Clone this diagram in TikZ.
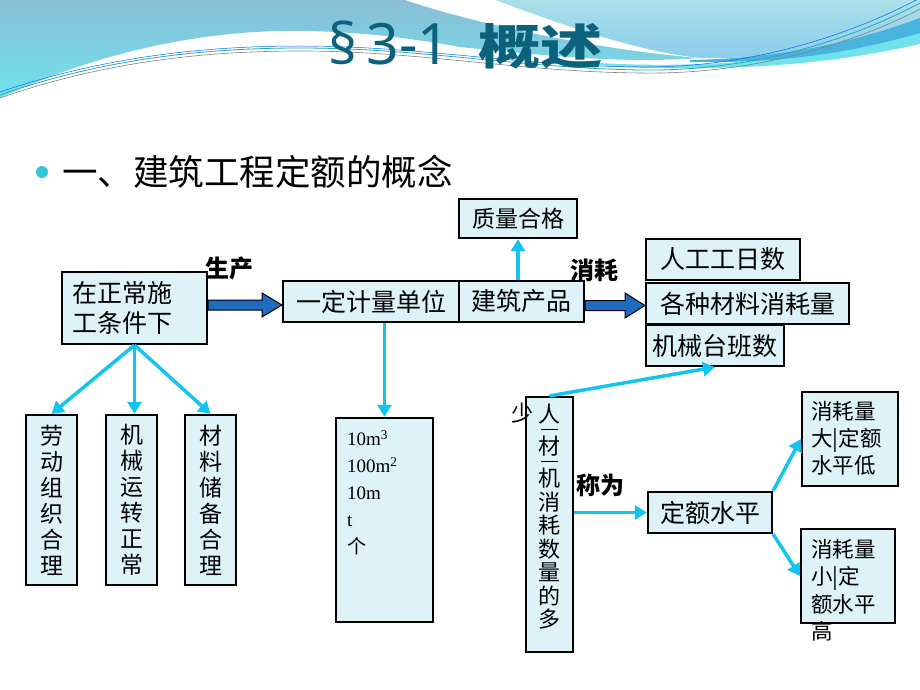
\documentclass[tikz,border=0pt]{standalone}
\usepackage{fontspec}
\usepackage{graphicx}
\newfontfamily\cjk{Noto Sans CJK SC}
\newfontfamily\lat{Noto Sans}
\newfontfamily\numfont{Liberation Serif}
\usetikzlibrary{arrows.meta,calc}
\definecolor{cy}{RGB}{20,196,240}
\definecolor{boxfill}{RGB}{221,243,248}
\definecolor{fatc}{RGB}{30,108,192}
\definecolor{titlec}{RGB}{12,98,124}
\definecolor{hbA}{RGB}{137,190,214}
\definecolor{hbB}{RGB}{112,226,236}
\definecolor{hrA}{RGB}{170,224,232}
\definecolor{hrB}{RGB}{138,204,236}
\definecolor{deepb}{RGB}{72,180,222}
\definecolor{lcy}{RGB}{112,226,236}
\definecolor{teal}{RGB}{40,170,175}
\definecolor{bulc}{RGB}{50,200,215}
\tikzset{
  box/.style={draw=black, line width=2.2pt, fill=boxfill, inner sep=0pt,
    font=\cjk\fontsize{25}{30}\selectfont, text=black},
  vbox/.style={box, minimum width=51pt, minimum height=170pt, align=center,
    font=\cjk\fontsize{23}{26}\selectfont},
  cyarrow/.style={draw=cy, line width=3.5pt, -{Triangle[length=12pt,width=14pt]}},
  fatarrow/.style={fill=fatc, draw=black, line width=1pt, line join=miter},
  lbl/.style={inner sep=0pt, font=\cjk\bfseries\fontsize{24}{24}\selectfont},
  txt/.style={inner sep=0pt, align=left}
}
\begin{document}
\begin{tikzpicture}[x=1pt,y=-1pt]
\useasboundingbox (0,0) rectangle (920,690);
\fill[white] (0,0) rectangle (920,690);
% header swooshes
\shade[top color=hbA, bottom color=hbB] (0,0) -- (495,0)
  .. controls (570,28) and (640,52) .. (700,58)
  .. controls (620,64) and (540,55) .. (460,47)
  .. controls (400,36) and (340,30) .. (280,31)
  .. controls (180,33) and (80,60) .. (0,98) -- cycle;
\shade[top color=hrA, bottom color=hrB] (495,0)
  .. controls (570,28) and (640,52) .. (700,58)
  .. controls (790,60) and (860,40) .. (920,22) -- (920,0) -- cycle;
\fill[white] (405,0) -- (495,0)
  .. controls (570,28) and (640,52) .. (700,58)
  .. controls (600,50) and (480,25) .. (405,0) -- cycle;
\fill[lcy] (560,60) .. controls (660,70) and (800,66) .. (920,32)
  -- (920,44) .. controls (840,62) and (760,70) .. (650,68)
  .. controls (610,67) and (580,64) .. (560,60) -- cycle;
\fill[deepb] (690,60) .. controls (790,58) and (860,40) .. (920,18)
  -- (920,33) .. controls (860,50) and (790,64) .. (690,62) -- cycle;
\draw[teal, line width=0.8pt] (0,95) .. controls (100,60) and (200,48) .. (300,48)
  .. controls (420,48) and (520,68) .. (640,70) .. controls (760,72) and (860,35) .. (920,3);
\draw[gray, line width=0.6pt] (0,98) .. controls (100,63) and (200,51) .. (300,51)
  .. controls (420,51) and (520,72) .. (640,73) .. controls (760,75) and (860,40) .. (920,9);
\draw[blue!60!cyan, line width=0.5pt] (0,92) .. controls (100,58) and (200,46) .. (300,46)
  .. controls (420,46) and (520,66) .. (640,67) .. controls (760,68) and (860,30) .. (920,-2);
% title
\node[anchor=base west, inner sep=0pt, text=titlec] (title) at (328,65)
  {\lat\fontsize{57}{57}\selectfont §\,3-1\hspace{28pt}\scalebox{1.3}[1]{\cjk\bfseries\fontsize{48}{48}\selectfont 概述}};
% bullet heading
\fill[bulc] (42,172) circle (6);
\node[anchor=west, inner sep=0pt, font=\cjk\fontsize{35.5}{36}\selectfont] (hd) at (62,172) {一、建筑工程定额的概念};
% main boxes
\node[box, minimum width=145pt, minimum height=72pt, text width=125pt, align=left] (n1) at (134.5,308) {在正常施\\工条件下};
\node[box, minimum width=176pt, minimum height=41pt] (unit) at (371,301.5) {一定计量单位};
\node[box, minimum width=125pt, minimum height=41pt] (prod) at (521.5,301.5) {建筑产品};
\node[box, minimum width=118pt, minimum height=39pt, font=\cjk\fontsize{23}{26}\selectfont] (zl) at (518,218.5) {质量合格};
\node[box, minimum width=154pt, minimum height=41pt] (rg) at (723,259.5) {人工工日数};
\node[box, minimum width=203pt, minimum height=41pt] (cl) at (747.5,303.5) {各种材料消耗量};
\node[box, minimum width=138pt, minimum height=41pt] (jx) at (715,345.5) {机械台班数};
% vertical boxes
\node[vbox] (v1) at (51.5,500) {劳\\动\\组\\织\\合\\理};
\node[vbox] (v2) at (131.5,500) {机\\械\\运\\转\\正\\常};
\node[vbox] (v3) at (210.5,500) {材\\料\\储\\备\\合\\理};
% units box
\node[box, minimum width=97pt, minimum height=204pt] (units) at (384.5,520) {};
\node[txt, anchor=north west, font=\numfont\fontsize{19}{27}\selectfont] (unitst) at (347,430)
  {10m\textsuperscript{3}\\100m\textsuperscript{2}\\10m\\t\\{\cjk 个}};
% r-c-j box
\node[box, minimum width=47pt, minimum height=255pt] (rcj) at (549.5,524.5) {};
\node[inner sep=0pt, anchor=north, align=center, font=\cjk\fontsize{22}{23.5}\selectfont] (rcjt) at (549.5,404)
  {人\\[-8.5pt]\raisebox{7.5pt}{\rule{17pt}{1.3pt}}\\[-6.5pt]材\\[-8.5pt]\raisebox{7.5pt}{\rule{17pt}{1.3pt}}\\[-6.5pt]机\\消\\耗\\数\\量\\的\\多};
\node[inner sep=0pt, font=\cjk\fontsize{22}{22}\selectfont] (shao) at (522,413) {少};
% level boxes
\node[box, minimum width=124pt, minimum height=41pt] (dewp) at (710,512.5) {定额水平};
\node[box, minimum width=96pt, minimum height=94pt] (big) at (850,439) {};
\node[txt, anchor=north west, font=\cjk\fontsize{21.5}{27}\selectfont] (bigt) at (811,401) {消耗量\\大|定额\\水平低};
\node[box, minimum width=94pt, minimum height=94pt] (small) at (848,576) {};
\node[txt, anchor=north west, font=\cjk\fontsize{21.5}{27.5}\selectfont] (smallt) at (811,539) {消耗量\\小|定\\额水平\\高};
% bold labels
\node[lbl] (sc) at (229,268) {生产};
\node[lbl] (xh) at (594,270) {消耗};
\node[lbl] (cw) at (600,485) {称为};
% fat arrows
\filldraw[fatarrow] (n1.east |- 0,300) -- (262,300) -- (262,293) -- (unit.west |- 0,305)
  -- (262,317) -- (262,310) -- (n1.east |- 0,310) -- cycle;
\filldraw[fatarrow] (prod.east |- 0,300.5) -- (625,300.5) -- (625,293) -- (cl.west |- 0,305.5)
  -- (625,318) -- (625,310.5) -- (prod.east |- 0,310.5) -- cycle;
% cyan arrows
\draw[cyarrow] (n1.south) -- (v1.north);
\draw[cyarrow] (n1.south) -- (n1.south |- v2.north);
\draw[cyarrow] (n1.south) -- (v3.north);
\draw[cyarrow] (units.north |- unit.south) -- (units.north);
\draw[cyarrow] (zl.south |- prod.north) -- (zl.south);
\draw[cyarrow] (rcj.north) -- (jx.south);
\draw[cyarrow] (rcj.east |- dewp.west) -- (dewp.west);
\draw[cyarrow] (dewp.north east) -- (big.west);
\draw[cyarrow] (dewp.south east) -- (small.west);
\end{tikzpicture}
\end{document}
